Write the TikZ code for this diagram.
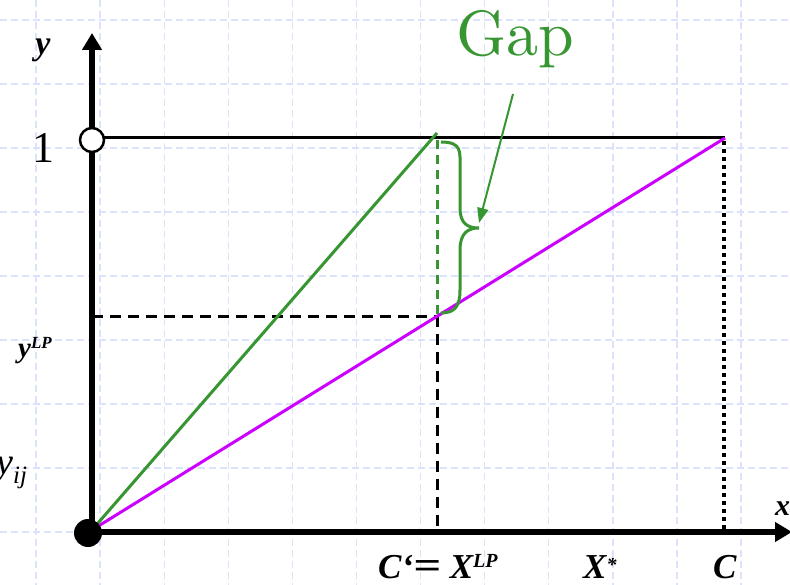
\documentclass[tikz,border=0pt]{standalone}
\usepackage{fontspec}
\newfontfamily\tnr{Liberation Serif}
\newfontfamily\lmten{lmroman10-regular}[Extension=.otf]
\usetikzlibrary{arrows.meta}
\definecolor{gapgreen}{RGB}{56,150,50}
\definecolor{mag}{RGB}{204,0,255}
\definecolor{gridc}{RGB}{218,226,252}
\begin{document}
\begin{tikzpicture}[x=1pt,y=-1pt,
  gridline/.style={draw=gridc, line width=1.3pt, dash pattern=on 7pt off 4pt},
  axis/.style={line width=5.5pt, -{Triangle[width=19pt,length=17pt]}},
  lab/.style={inner sep=0, font=\tnr\bfseries\itshape},
  blackdash/.style={line width=3pt, dash pattern=on 11pt off 7pt},
  greendash/.style={gapgreen, line width=3pt, dash pattern=on 9pt off 6pt},
  plotline/.style={line width=3pt}
]
\useasboundingbox (0,0) rectangle (790,585);
\fill[white] (0,0) rectangle (790,585);
% grid
\foreach \k in {0,...,11} \draw[gridline] ({36+64.1*\k},0) -- ({36+64.1*\k},585);
\foreach \k in {0,...,8} \draw[gridline] (0,{20+64*\k}) -- (790,{20+64*\k});
% coordinates
\coordinate (O) at (92,532);
\coordinate (Ytip) at (92,33);
\coordinate (Xtip) at (792,532);
\coordinate (one) at (92,138);
\coordinate (Cpt) at (725,138);
\coordinate (Gtop) at (437,133);
\coordinate (Gv) at (437,140);
\coordinate (P) at (437,316.5);
\coordinate (Pax) at (92,316.5);
\coordinate (Cp) at (437,532);
\coordinate (Cd) at (724,141);
\coordinate (Cx) at (724,532);
\coordinate (Ostart) at (92,530);
\coordinate (Astart) at (513,94);
\coordinate (Aend) at (479,223);
% lines
\draw[line width=3pt] (one) -- (Cpt);
\draw[blackdash] (Pax) -- (P);
\draw[blackdash] (P) -- (Cp);
\draw[greendash] (Gv) -- (P);
\draw[line width=4pt, dash pattern=on 4pt off 4pt] (Cd) -- (Cx);
\draw[axis] (O) -- (Ytip);
\draw[axis] (O) -- (Xtip);
\draw[plotline, mag] (Ostart) -- (Cpt);
\draw[plotline, gapgreen] (Ostart) -- (Gtop);
% brace
\draw[gapgreen, line width=3pt] (441,142) .. controls (462,142) and (460,152) .. (460,166) -- (460,208)
  .. controls (460,224) and (468,228) .. (479,228)
  .. controls (468,228) and (460,233) .. (460,250) -- (460,290)
  .. controls (460,306) and (455,313) .. (441,313);
\draw[gapgreen, line width=2pt, -{Triangle[width=11pt,length=15pt]}] (Astart) -- (Aend);
% circles
\node[circle, fill=black, minimum size=28pt, inner sep=0] (orig) at (88,533) {};
\node[circle, draw=black, line width=2.5pt, fill=white, minimum size=24pt, inner sep=0] (onec) at (92,140) {};
% labels
\node[anchor=base, text=gapgreen, font=\lmten\fontsize{64}{64}\selectfont, inner sep=0] (gap) at (515,56) {Gap};
\node[lab, anchor=base] (ylab) at (43,55) {\fontsize{34}{34}\selectfont y};
\node[anchor=base, inner sep=0, font={\tnr\fontsize{44}{44}\selectfont}] (onelab) at (43,163) {1};
\node[lab, anchor=base west] (ylp) at (18,357) {\fontsize{29}{29}\selectfont y\raisebox{9pt}{\fontsize{17}{17}\selectfont LP}};
\node[anchor=base west, inner sep=0, font=\tnr\itshape] (yij) at (-4,474) {\fontsize{38}{38}\selectfont y\raisebox{-9pt}{\fontsize{25}{25}\selectfont ij}};
\node[lab, anchor=base west] (cplab) at (378,578) {\fontsize{35}{35}\selectfont C‘\scalebox{1.4}[1.1]{=} X\raisebox{11pt}{\fontsize{20}{20}\selectfont LP}};
\node[lab, anchor=base west] (xstar) at (583,578) {\fontsize{35}{35}\selectfont X\raisebox{7pt}{\fontsize{20}{20}\selectfont *}};
\node[lab, anchor=base west] (clab) at (713,578) {\fontsize{35}{35}\selectfont C};
\node[lab, anchor=base west] (xlab) at (775,515) {\fontsize{30}{30}\selectfont x};
\end{tikzpicture}
\end{document}
